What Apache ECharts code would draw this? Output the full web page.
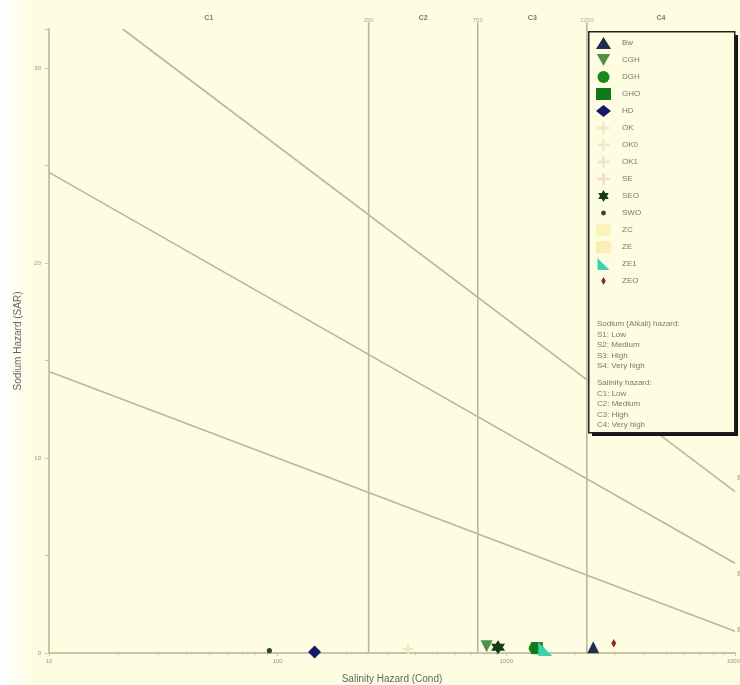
<!DOCTYPE html>
<html><head><meta charset="utf-8">
<script src="https://cdn.jsdelivr.net/npm/echarts@6/dist/echarts.min.js"></script>
<style>html,body{margin:0;padding:0;background:#fefde2}#c{width:740px;height:685px}</style>
</head><body><div id="c"></div>
<script>
// ---- data ----
const xTickLabels = ['10','100','1000','10000'];
const yTickLabels = ['0','10','20','30'];
const classBounds = [250, 750, 2250];
const classLabels = ['C1','C2','C3','C4'];
const classLabelX = [50, 433, 1299, 4743];
const lineS1S2 = [[10,14.43],[10000,1.11]];
const lineS2S3 = [[10,24.65],[10000,4.6]];
const lineS3S4 = [[21,32],[10000,8.27]];
const seriesNames = ['Bw','CGH','DGH','GHO','HD','OK','OK0','OK1','SE','SEO','SWO','ZC','ZE','ZE1','ZEO'];
const ptsBw  = [[2400,0.3]];
const ptsCGH = [[820,0.35]];
const ptsDGH = [[1350,0.25]];
const ptsGHO = [[1360,0.25]];
const ptsHD  = [[145,0.05]];
const ptsOK  = [[372,0.2]];
const ptsOK0 = [];
const ptsOK1 = [];
const ptsSE  = [];
const ptsSEO = [[920,0.3]];
const ptsSWO = [[92,0.12]];
const ptsZC  = [];
const ptsZE  = [];
const ptsZE1 = [[1480,0.2]];
const ptsZEO = [[2950,0.5]];
const sodiumText = ['Sodium (Alkali) hazard:','S1: Low','S2: Medium','S3: High','S4: Very high'];
const salinityText = ['Salinity hazard:','C1: Low','C2: Medium','C3: High','C4: Very high'];

const star = 'path://M0,-10 L2.9,-5 8.7,-5 5.8,0 8.7,5 2.9,5 0,10 -2.9,5 -8.7,5 -5.8,0 -8.7,-5 -2.9,-5Z';
const plus = 'path://M4,0 L6,0 6,4 10,4 10,6 6,6 6,10 4,10 4,6 0,6 0,4 4,4Z';
const smallDot = 'path://M0,0 L0.01,0 0.01,0.01Z M12,12 L12.01,12 12.01,12.01Z M3.6,6 A2.4,2.4 0 1,0 8.4,6 A2.4,2.4 0 1,0 3.6,6Z';
const smallDiamond = 'path://M0,0 L0.01,0 0.01,0.01Z M12,12 L12.01,12 12.01,12.01Z M6,2 L8.3,6 6,10 3.7,6Z';
const styles = {
  Bw:  {symbol:'triangle', size:12, color:'#1c2f4f', data:ptsBw},
  CGH: {symbol:'path://M0,0 L10,0 5,9Z', size:12, color:'#4f8f4a', data:ptsCGH},
  DGH: {symbol:'circle', size:[15,12], color:'#158a1b', data:ptsDGH},
  GHO: {symbol:'rect', size:12, color:'#0f7a17', data:ptsGHO},
  HD:  {symbol:'diamond', size:13, color:'#151a66', data:ptsHD},
  OK:  {symbol:plus, size:10, color:'#ecebbf', data:ptsOK},
  OK0: {symbol:plus, size:10, color:'#ebe8d2', data:ptsOK0},
  OK1: {symbol:plus, size:10, color:'#ede4cc', data:ptsOK1},
  SE:  {symbol:plus, size:10, color:'#f1dccb', data:ptsSE},
  SEO: {symbol:star, size:14, color:'#163d1a', data:ptsSEO},
  SWO: {symbol:smallDot, size:13, color:'#2f4a22', data:ptsSWO},
  ZC:  {symbol:'rect', size:10, color:'#fbf3b8', data:ptsZC},
  ZE:  {symbol:'rect', size:10, color:'#faedb8', data:ptsZE},
  ZE1: {symbol:'path://M0,0 L10,10 0,10Z', size:14, color:'#3fd0b2', data:ptsZE1},
  ZEO: {symbol:smallDiamond, size:13, color:'#8c2a2a', data:ptsZEO}
};

const lineColor = '#bcb79c';
const series = [];
[lineS1S2, lineS2S3, lineS3S4].forEach(d => series.push({
  type:'line', data:d, symbol:'none', silent:true, z:1,
  lineStyle:{color:lineColor, width:1.6}
}));
classBounds.forEach(v => series.push({
  type:'line', data:[[v,0],[v,32.35]], symbol:'none', silent:true, clip:false, z:1,
  lineStyle:{color:lineColor, width:1.6}
}));
series.push({
  type:'scatter', symbolSize:0, silent:true, clip:false, z:1,
  data: classBounds.map(v => [v, 32]),
  label:{show:true, position:'top', distance:6, formatter:p => String(p.value[0]), fontSize:6, color:'#9a9680', fontFamily:'Liberation Sans'}
});
series.push({
  type:'scatter', symbolSize:0, silent:true, clip:false, z:1,
  data: classLabelX.map((v,i) => ({value:[v,32], name:classLabels[i]})),
  label:{show:true, position:'top', distance:7, formatter:p => p.name, fontSize:7, fontWeight:'bold', color:'#555', fontFamily:'Liberation Sans'}
});
seriesNames.forEach(n => {
  const s = styles[n];
  series.push({
    name:n, type:'scatter', data:s.data, symbol:s.symbol, symbolSize:s.size, z:3,
    itemStyle:{color:s.color, opacity:1}
  });
});

const chart = echarts.init(document.getElementById('c'));
chart.setOption({
  backgroundColor:new echarts.graphic.LinearGradient(0,0,1,0,[{offset:0,color:'#ffffff'},{offset:0.045,color:'#fefde2'},{offset:1,color:'#fefde2'}]),
  animation:false,
  grid:{left:49, right:5, top:29, bottom:32, outerBoundsMode:'none', containLabel:false},
  xAxis:{
    type:'log', logBase:10, min:10, max:10000,
    name:'Salinity Hazard (Cond)', nameLocation:'middle', nameGap:21,
    nameTextStyle:{fontSize:10, color:'#666', fontFamily:'Liberation Sans'},
    axisLine:{show:true, lineStyle:{color:'#c9c4a4', width:2}},
    axisTick:{show:true, length:3, lineStyle:{color:'#c9c4a4'}},
    minorTick:{show:true, splitNumber:9, length:2, lineStyle:{color:'#c9c4a4'}},
    axisLabel:{fontSize:6, color:'#9a9680', margin:5, fontFamily:'Liberation Sans',
      formatter:v => { const i = Math.round(Math.log10(v)) - 1; return xTickLabels[i] ?? ''; }},
    splitLine:{show:false}
  },
  yAxis:{
    type:'value', min:0, max:32, interval:5,
    name:'Sodium Hazard (SAR)', nameLocation:'middle', nameGap:26, nameRotate:90,
    nameTextStyle:{fontSize:10, color:'#666', fontFamily:'Liberation Sans'},
    axisLine:{show:true, lineStyle:{color:'#c9c4a4', width:2}},
    axisTick:{show:true, length:4, lineStyle:{color:'#c9c4a4'}},
    axisLabel:{fontSize:6, color:'#9a9680', margin:8, fontFamily:'Liberation Sans',
      formatter:v => (v % 10 === 0 ? yTickLabels[v/10] : '')},
    splitLine:{show:false}
  },
  legend:{
    orient:'vertical', left:596, top:37, z:120, padding:0,
    itemWidth:15, itemHeight:12, itemGap:5,
    data:seriesNames,
    textStyle:{fontSize:8, color:'#7a7868', fontFamily:'Liberation Sans', padding:[0,0,0,6]}
  },
  graphic:{elements:[
    {type:'rect', z:109, left:592, top:35, shape:{width:146, height:401}, style:{fill:'#151515'}, silent:true},
    {type:'rect', z:110, left:588, top:31, shape:{width:146, height:401},
      style:{fill:'#fefde2', stroke:'#222', lineWidth:1.5}, silent:true},
    {type:'text', z:115, left:597, top:319,
      style:{text:sodiumText.join('\n'), fontSize:8, lineHeight:10.5, fill:'#7a7868', fontFamily:'Liberation Sans'}},
    {type:'text', z:115, left:597, top:378,
      style:{text:salinityText.join('\n'), fontSize:8, lineHeight:10.5, fill:'#7a7868', fontFamily:'Liberation Sans'}},
    {type:'text', z:115, left:737, top:475, style:{text:'S4', fontSize:7, fill:'#777'}},
    {type:'text', z:115, left:737, top:571, style:{text:'S3', fontSize:7, fill:'#777'}},
    {type:'text', z:115, left:737, top:627, style:{text:'S2', fontSize:7, fill:'#777'}}
  ]},
  series:series
});
</script>
</body></html>
